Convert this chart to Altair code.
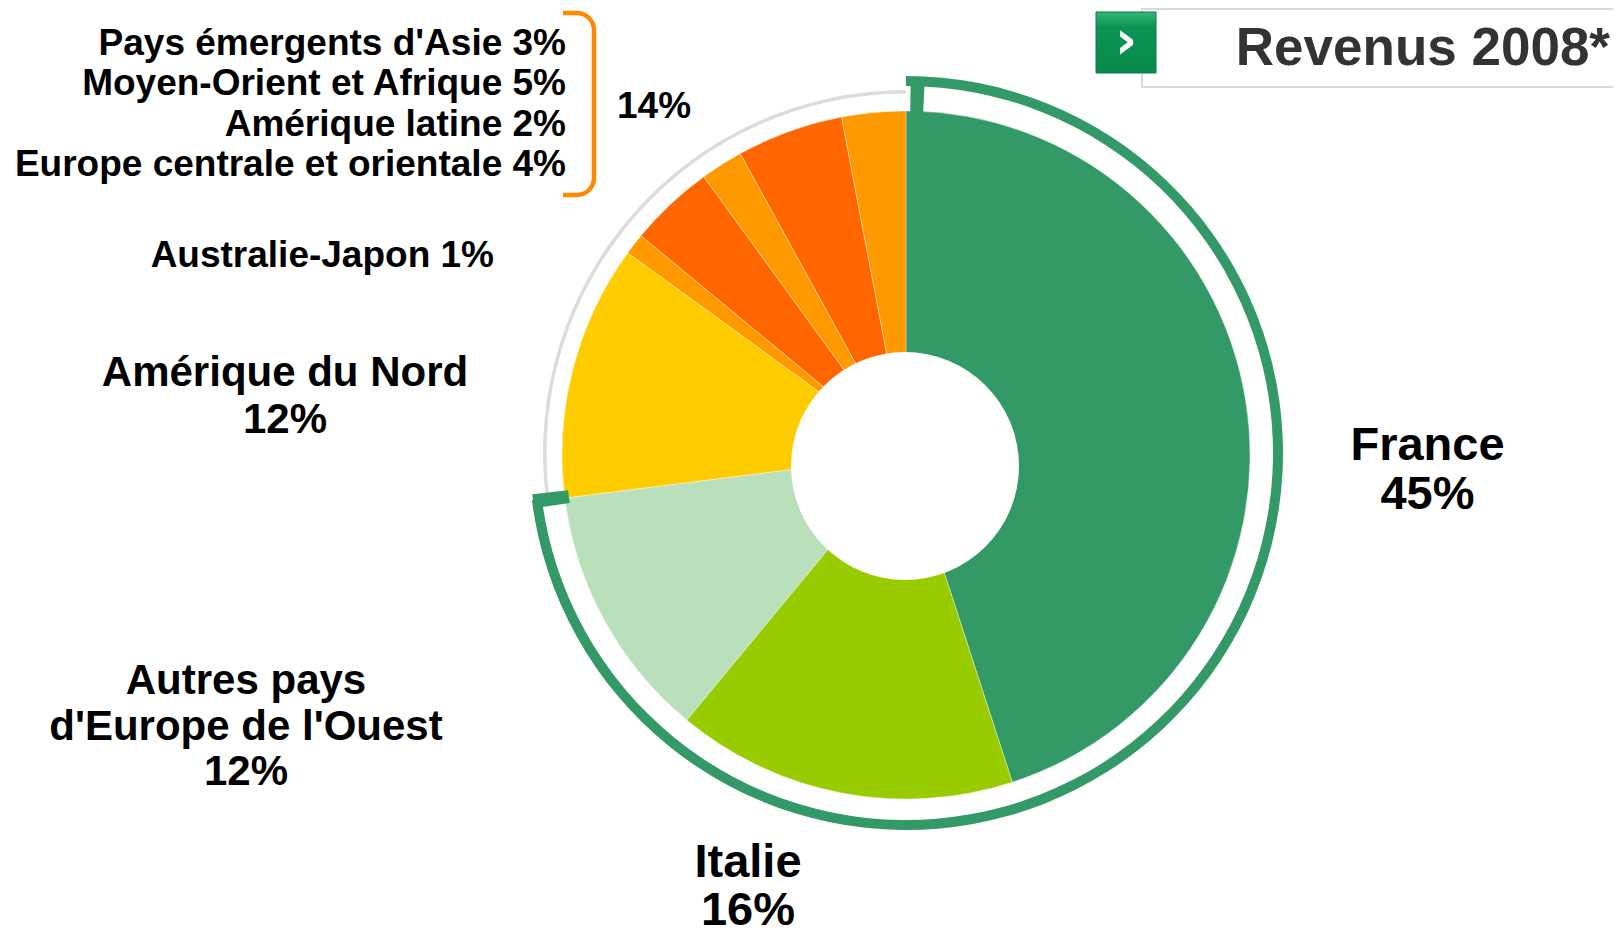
import math
import altair as alt
import pandas as pd

# ---------------- data ----------------
regions = ["France", "Italie", "Autres pays d'Europe de l'Ouest", "Amérique du Nord",
           "Australie-Japon", "Europe centrale et orientale", "Amérique latine",
           "Moyen-Orient et Afrique", "Pays émergents d'Asie"]
shares = [45, 16, 12, 12, 1, 4, 2, 5, 3]
colors = ["#339966", "#99CC00", "#B9DFBB", "#FFCC00", "#FF9900",
          "#FF6600", "#FF9900", "#FF6600", "#FF9900"]
core_count = 3          # France, Italie, Autres pays d'Europe de l'Ouest (green ring)
group_start = 5         # regions bracketed together (14%)
title_text = "Revenus 2008*"
display_names = {"Autres pays d'Europe de l'Ouest": "Autres pays\nd'Europe de l'Ouest"}

# ---------------- layout (pixels, page coordinates) ----------------
OFF = 8
W, H = 1605, 924
FONT = "Liberation Sans"


def px(v):
    return v - OFF


PIE_C = (906, 455)
HOLE_C = (905, 466)
RING_C = (906, 453)
TH = alt.Scale(domain=[0, 100], range=[0, 2 * math.pi])

pie_df = pd.DataFrame({"region": regions, "share": shares})
pie_df["end"] = pie_df["share"].cumsum()
pie_df["start"] = pie_df["end"] - pie_df["share"]
total = float(pie_df["share"].sum())
core_total = float(pie_df["share"][:core_count].sum())
group_total = int(pie_df["share"][group_start:].sum())

one = pd.DataFrame({"k": [0]})

pie = alt.Chart(pie_df).mark_arc(stroke="#ffffff", strokeWidth=0.6, strokeOpacity=0.6).encode(
    theta=alt.Theta("start:Q", scale=TH, stack=False),
    theta2="end:Q",
    color=alt.Color("region:N", scale=alt.Scale(domain=regions, range=colors), legend=None),
    radius=alt.value(344),
    x=alt.value(px(PIE_C[0])), y=alt.value(px(PIE_C[1])),
)

hole = alt.Chart(one).mark_arc(color="#ffffff").encode(
    theta=alt.value(0), theta2=alt.value(2 * math.pi), radius=alt.value(114),
    x=alt.value(px(HOLE_C[0])), y=alt.value(px(HOLE_C[1])),
)

ring_df = pd.DataFrame({"part": ["core", "rest"], "start": [0.0, core_total], "end": [core_total, total]})
green_ring = alt.Chart(ring_df).transform_filter(alt.datum.part == "core").mark_arc(color="#339966").encode(
    theta=alt.Theta("start:Q", scale=TH, stack=False), theta2="end:Q",
    radius=alt.value(377), radius2=alt.value(367),
    x=alt.value(px(RING_C[0])), y=alt.value(px(RING_C[1])),
)
gray_ring = alt.Chart(ring_df).transform_filter(alt.datum.part == "rest").mark_arc(color="#dcdcdc").encode(
    theta=alt.Theta("start:Q", scale=TH, stack=False), theta2="end:Q",
    radius=alt.value(363), radius2=alt.value(359.5),
    x=alt.value(px(RING_C[0])), y=alt.value(px(RING_C[1])),
)
TICK_W = 0.6
tick_df = pd.DataFrame({"start": [0.2, core_total - TICK_W + 0.25],
                        "end": [0.2 + TICK_W, core_total + 0.25]})
ticks = alt.Chart(tick_df).mark_arc(color="#339966").encode(
    theta=alt.Theta("start:Q", scale=TH, stack=False), theta2="end:Q",
    radius=alt.value(376), radius2=alt.value(340),
    x=alt.value(px(RING_C[0])), y=alt.value(px(RING_C[1])),
)

# ---------------- bracket ----------------
BR = "#FF8800"
BW = 4.5
br_x, br_top, br_bot, br_r, br_left = 594, 30, 178, 17, 563
bracket = [
    alt.Chart(one).mark_rule(color=BR, strokeWidth=BW).encode(
        x=alt.value(px(br_x)), y=alt.value(px(br_top)), y2=alt.value(px(br_bot))),
    alt.Chart(one).mark_rule(color=BR, strokeWidth=BW).encode(
        x=alt.value(px(br_left)), x2=alt.value(px(br_x - br_r)), y=alt.value(px(br_top - br_r))),
    alt.Chart(one).mark_rule(color=BR, strokeWidth=BW).encode(
        x=alt.value(px(br_left)), x2=alt.value(px(br_x - br_r)), y=alt.value(px(br_bot + br_r))),
    alt.Chart(one).mark_arc(color=BR).encode(
        theta=alt.value(0), theta2=alt.value(math.pi / 2),
        radius=alt.value(br_r + BW / 2), radius2=alt.value(br_r - BW / 2),
        x=alt.value(px(br_x - br_r)), y=alt.value(px(br_top))),
    alt.Chart(one).mark_arc(color=BR).encode(
        theta=alt.value(math.pi / 2), theta2=alt.value(math.pi),
        radius=alt.value(br_r + BW / 2), radius2=alt.value(br_r - BW / 2),
        x=alt.value(px(br_x - br_r)), y=alt.value(px(br_bot))),
]

# ---------------- labels ----------------
def label(text, x, y, size, align="center", lh=None, color="#000000", font=FONT):
    props = dict(font=font, fontWeight="bold", fontSize=size, align=align,
                 baseline="alphabetic", color=color, lineBreak="\n")
    if lh is not None:
        props["lineHeight"] = lh
    return alt.Chart(pd.DataFrame({"t": [text]})).mark_text(**props).encode(
        text="t:N", x=alt.value(px(x)), y=alt.value(px(y)))


def big(i):
    name = display_names.get(regions[i], regions[i])
    return f"{name}\n{shares[i]}%"


texts = [
    label(big(0), 1427.5, 459.5, 47, lh=49.5),
    label(big(1), 748, 877, 47, lh=47.5),
    label(big(2), 246, 694, 42, lh=45.5),
    label(big(3), 285, 386, 42, lh=46.5),
    label(f"{regions[4]} {shares[4]}%", 494, 267, 37, align="right"),
    label("\n".join(f"{regions[i]} {shares[i]}%" for i in reversed(range(group_start, len(regions)))),
          566, 55, 37, align="right", lh=40.3),
    label(f"{group_total}%", 617, 117.5, 37, align="left"),
]

# ---------------- title box ----------------
box = alt.Chart(one).mark_rect(fill="#ffffff", stroke="#d9d9d9", strokeWidth=2).encode(
    x=alt.value(px(1142)), x2=alt.value(px(1640)), y=alt.value(px(9)), y2=alt.value(px(87)))
icon = alt.Chart(one).mark_rect(
    color=alt.Gradient(gradient="linear",
                       stops=[alt.GradientStop(color="#34b575", offset=0),
                              alt.GradientStop(color="#0c9455", offset=0.25),
                              alt.GradientStop(color="#078a4c", offset=1)],
                       x1=0, x2=0, y1=0, y2=1),
    stroke="#0a7d47", strokeWidth=1).encode(
    x=alt.value(px(1096)), x2=alt.value(px(1156)), y=alt.value(px(12)), y2=alt.value(px(73)))
chevron = label("›", 1126, 58, 54, color="#ffffff", font="DejaVu Sans")
title = label(title_text, 1610, 65, 53, align="right", color="#333333")

chart = alt.layer(
    gray_ring, green_ring, pie, hole, ticks, *bracket, *texts, box, icon, chevron, title
).properties(
    width=W, height=H, padding=0, background="#ffffff",
    autosize=alt.AutoSizeParams(type="none")
).configure_view(strokeWidth=0, stroke="transparent")

chart.save("out.html", embed_options={"renderer": "svg", "actions": False})
